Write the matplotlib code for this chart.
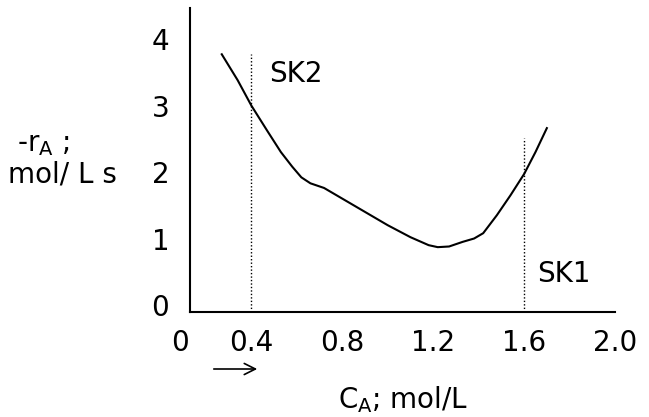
import numpy as np
import matplotlib.pyplot as plt
from matplotlib.transforms import blended_transform_factory

# curve
ca = [0.27, 0.34, 0.40, 0.47, 0.53, 0.58, 0.62, 0.66, 0.72, 0.80, 0.90, 1.00,
      1.10, 1.18, 1.22, 1.27, 1.33, 1.38, 1.42, 1.48, 1.54, 1.60, 1.65, 1.70]
rate = [3.77, 3.38, 3.00, 2.62, 2.30, 2.08, 1.92, 1.83, 1.76, 1.60, 1.40, 1.20,
        1.02, 0.90, 0.87, 0.88, 0.95, 1.00, 1.08, 1.35, 1.65, 1.97, 2.30, 2.66]

# dotted markers for the two reactors
sk_x = [0.4, 1.6]
sk_top = [3.77, 2.51]

xticks = [0.4, 0.8, 1.2, 1.6, 2.0]
xticklabels = ["0.4", "0.8", "1.2", "1.6", "2.0"]
yticks = [0, 1, 2, 3, 4]

FS = 20

plt.rcParams['font.family'] = 'DejaVu Sans'
plt.rcParams['mathtext.default'] = 'regular'

fig = plt.figure(figsize=(6.49, 4.17), dpi=100)
ax = fig.add_axes([0.2928, 0.2518, 0.6549, 0.729])

ax.plot(ca, rate, color='black', lw=1.5)
for x, top in zip(sk_x, sk_top):
    ax.plot([x, x], [-0.105, top], color='black', lw=1, linestyle=(0, (1, 1.5)))

ax.text(0.48, 3.35, "SK2", fontsize=FS, va='baseline', ha='left')
ax.text(1.657, 0.35, "SK1", fontsize=FS, va='baseline', ha='left')

ax.set_xlim(0.1304, 1.978)
ax.set_ylim(-0.105, 4.466)
ax.set_xticks(xticks)
ax.set_xticklabels(xticklabels)
ax.set_yticks(yticks)
ax.tick_params(axis='both', length=0, labelsize=FS)
ax.tick_params(axis='y', pad=15)
ax.tick_params(axis='x', pad=12)
for s in ['top', 'right']:
    ax.spines[s].set_visible(False)
for s in ['left', 'bottom']:
    ax.spines[s].set_linewidth(1.5)

# the "0" of the x axis sits left of the spine
trans = blended_transform_factory(ax.transData, ax.transAxes)
ax.text(0.087, -0.055, "0", fontsize=FS, ha='center', va='top',
        transform=trans, clip_on=False)

# y label lines
fig.text(17 / 649, 1 - 151 / 417, r"-r$_{A}$ ;", fontsize=FS, ha='left', va='baseline')
fig.text(8 / 649, 1 - 183 / 417, "mol/ L s", fontsize=FS, ha='left', va='baseline')

# x label and arrow
fig.text(403 / 649, 1 - 408 / 417, r"C$_{A}$; mol/L", fontsize=FS, ha='center', va='baseline')
plt.annotate("", xy=(260 / 649, 1 - 369 / 417), xytext=(211 / 649, 1 - 369 / 417),
             xycoords='figure fraction', textcoords='figure fraction',
             arrowprops=dict(arrowstyle='->', color='black', lw=1.2,
                             mutation_scale=20))

fig.savefig("out.png", dpi=100)
